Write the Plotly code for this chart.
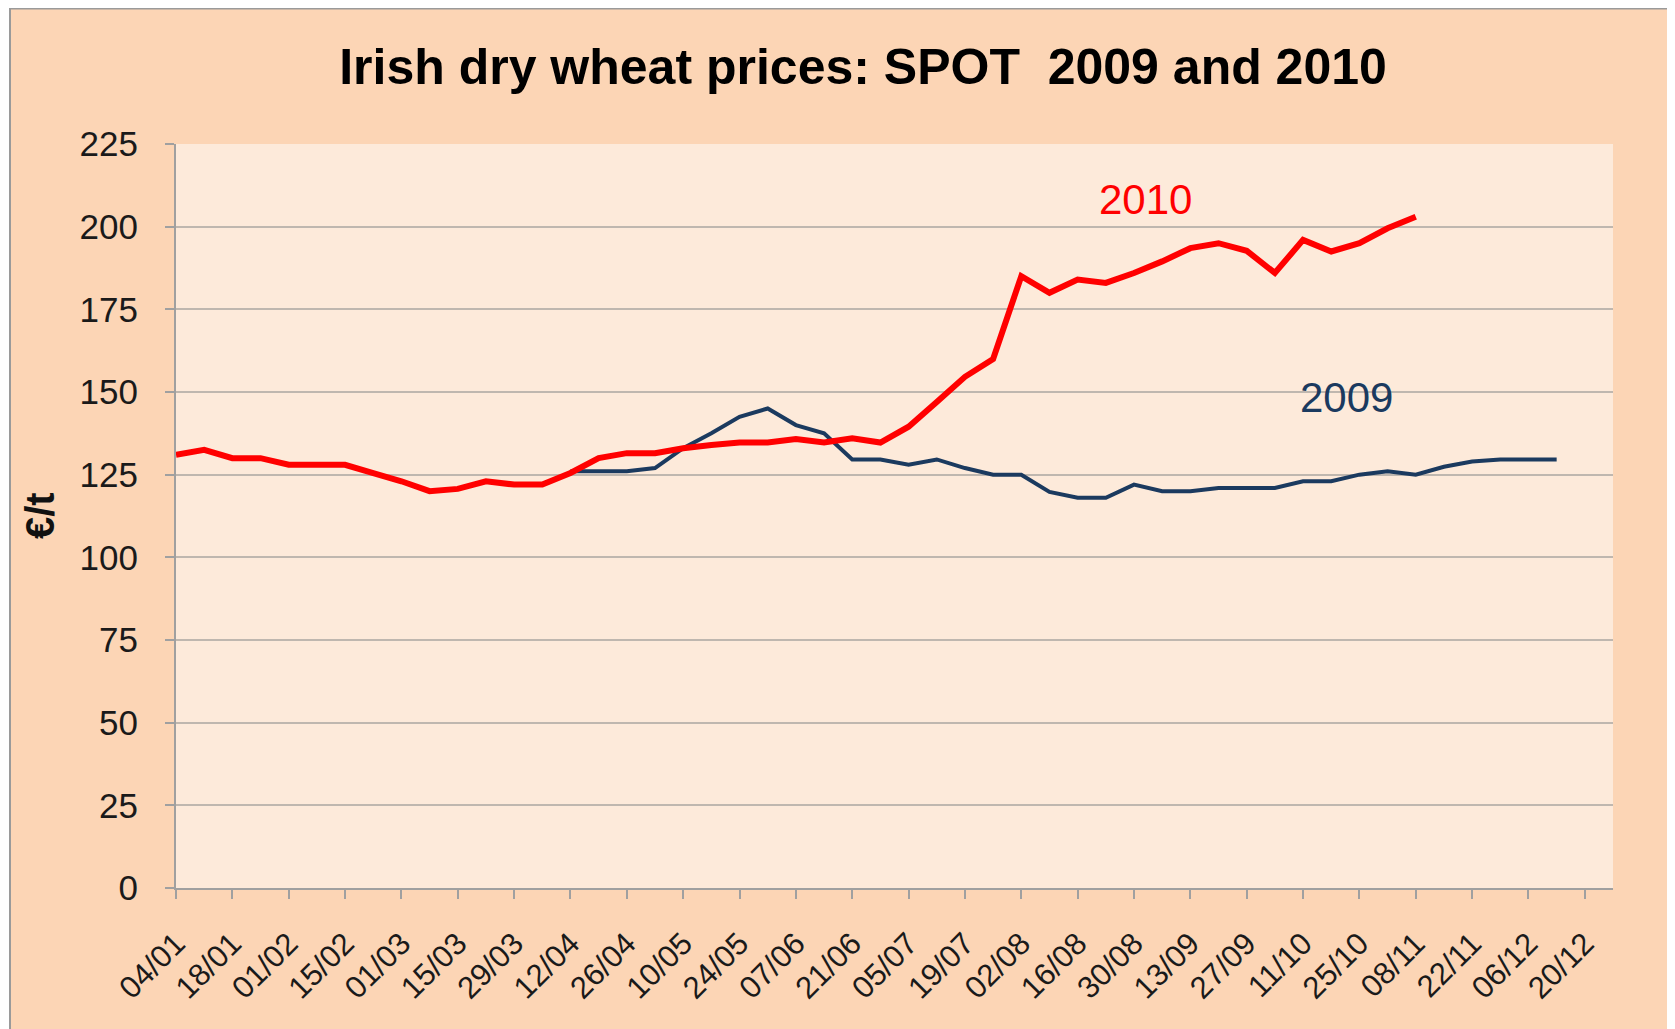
import plotly.graph_objects as go

# weekly spot quotes (Mondays), one category per week
WEEKS = [
    "04/01", "11/01", "18/01", "25/01", "01/02", "08/02", "15/02", "22/02",
    "01/03", "08/03", "15/03", "22/03", "29/03", "05/04", "12/04", "19/04",
    "26/04", "03/05", "10/05", "17/05", "24/05", "31/05", "07/06", "14/06",
    "21/06", "28/06", "05/07", "12/07", "19/07", "26/07", "02/08", "09/08",
    "16/08", "23/08", "30/08", "06/09", "13/09", "20/09", "27/09", "04/10",
    "11/10", "18/10", "25/10", "01/11", "08/11", "15/11", "22/11", "29/11",
    "06/12", "13/12", "20/12", "27/12",
]

# 2010 runs 04/01 -> 08/11
PRICES_2010 = [
    131, 132.5, 130, 130, 128, 128, 128, 125.5, 123, 120,
    120.7, 123, 122, 122, 125.5, 130, 131.5, 131.5, 133, 134,
    134.7, 134.7, 135.8, 134.7, 136, 134.7, 139.5, 147, 154.6, 160,
    185, 180, 184, 183, 186, 189.5, 193.5, 195, 192.7, 186,
    196, 192.5, 195, 199.5, 203,
]

# 2009 runs 12/04 -> 13/12
START_2009 = 14
PRICES_2009 = [
    126, 126, 126, 127, 133, 137.5, 142.5, 145, 140, 137.5,
    129.6, 129.6, 128, 129.6, 127, 125, 125, 119.8, 118, 118,
    122, 120, 120, 121, 121, 121, 123, 123, 125, 126,
    125, 127.4, 129, 129.6, 129.6, 129.6,
]

RED = "#FF0000"
NAVY = "#1B3A5F"
PAPER = "#FCD5B5"
PLOT_BG = "#FDEADA"
GRID = "#BFB7AF"
AXIS = "#A0A0A0"
FONT = "Liberation Sans, Arial, sans-serif"

# the page body adds an 8px margin, so the figure is 8px smaller each way
W, H = 1667, 1021
L, R, T, B = 168, 62, 136, 141
PW, PH = W - L - R, H - T - B


def px_x(x):
    return (x - L) / PW


def px_y(y):
    return (H - B - y) / PH


y2010 = PRICES_2010 + [None] * (len(WEEKS) - len(PRICES_2010))
y2009 = (
    [None] * START_2009
    + PRICES_2009
    + [None] * (len(WEEKS) - START_2009 - len(PRICES_2009))
)

fig = go.Figure()
fig.add_trace(
    go.Scatter(
        x=WEEKS, y=y2009, mode="lines", name="2009",
        line=dict(color=NAVY, width=4), connectgaps=False, showlegend=False,
    )
)
fig.add_trace(
    go.Scatter(
        x=WEEKS, y=y2010, mode="lines", name="2010",
        line=dict(color=RED, width=6), connectgaps=False, showlegend=False,
    )
)

# series labels placed inside the plot
fig.add_annotation(x=34.4, y=208.3, text="2010", showarrow=False,
                   font=dict(color=RED, size=42, family=FONT))
fig.add_annotation(x=41.55, y=148.2, text="2009", showarrow=False,
                   font=dict(color=NAVY, size=42, family=FONT))

# y-axis title
fig.add_annotation(xref="paper", yref="paper", x=px_x(32), y=0.5,
                   xanchor="center", yanchor="middle",
                   text="<b>€/t</b>", textangle=-90, showarrow=False,
                   font=dict(color="#111111", size=40, family=FONT))

# grey frame edge (top and left)
fig.add_shape(type="rect", xref="paper", yref="paper",
              x0=px_x(-5), x1=px_x(2), y0=px_y(H + 5), y1=px_y(-5),
              fillcolor="white", line=dict(width=0), layer="above")
fig.add_shape(type="line", xref="paper", yref="paper",
              x0=px_x(2), x1=px_x(2), y0=px_y(0), y1=px_y(H + 5),
              line=dict(color="#9A9A9A", width=2), layer="above")
fig.add_shape(type="line", xref="paper", yref="paper",
              x0=px_x(2), x1=px_x(W + 5), y0=px_y(0.5), y1=px_y(0.5),
              line=dict(color="#9A9A9A", width=2), layer="above")

fig.update_layout(
    width=W,
    height=H,
    margin=dict(l=L, r=R, t=T, b=B, autoexpand=False),
    paper_bgcolor=PAPER,
    plot_bgcolor=PLOT_BG,
    font=dict(family=FONT, color="#1A1A1A"),
    title=dict(
        text="<b>Irish dry wheat prices: SPOT  2009 and 2010</b>",
        font=dict(size=50, family=FONT, color="#000000"),
        xref="container", x=855 / W, xanchor="center",
        yref="container", y=1 - 58 / H, yanchor="middle",
    ),
)
fig.update_xaxes(
    type="category",
    categoryorder="array",
    categoryarray=WEEKS,
    range=[0, len(WEEKS) - 1],
    tickmode="array",
    tickvals=WEEKS[::2],
    tickangle=-45,
    tickfont=dict(size=31, family=FONT, color="#1A1A1A"),
    ticks="outside", ticklen=9, tickwidth=2, tickcolor=AXIS,
    ticklabelstandoff=14,
    showline=True, linecolor=AXIS, linewidth=2,
    showgrid=False, zeroline=False, automargin=False,
)
fig.update_yaxes(
    range=[0, 225],
    tick0=0, dtick=25,
    tickfont=dict(size=35, family=FONT, color="#1A1A1A"),
    ticks="outside", ticklen=9, tickwidth=2, tickcolor=AXIS,
    ticklabelstandoff=20,
    showline=True, linecolor=AXIS, linewidth=2,
    showgrid=True, gridcolor=GRID, gridwidth=2,
    zeroline=False, automargin=False,
)

fig.write_html("out.html")
